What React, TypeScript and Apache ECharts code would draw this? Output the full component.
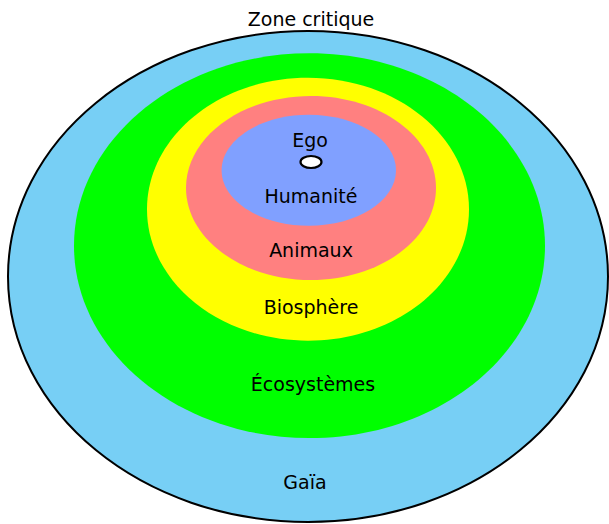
import React, { useEffect, useRef } from "react";
import * as echarts from "echarts";

// Layer labels, from outermost to innermost
const layerLabels = ["Gaïa", "Écosystèmes", "Biosphère", "Animaux", "Humanité"];
const egoLabel = "Ego";
const titleLabel = "Zone critique";

// Layout (positions/sizes/styles) kept separate from data
const layerGeom = [
  { cx: 308, cy: 276.5, rx: 300, ry: 245.5, fill: "#77cff5", stroke: "#000", lineWidth: 2 },
  { cx: 309.5, cy: 245.7, rx: 235.5, ry: 192.4, fill: "#00ff00" },
  { cx: 308, cy: 209.2, rx: 161, ry: 131.5, fill: "#ffff00" },
  { cx: 311, cy: 188, rx: 125, ry: 92, fill: "#ff8080" },
  { cx: 308.8, cy: 170.3, rx: 87.2, ry: 55.5, fill: "#80a0ff" },
];
// baselines
const labelPos = [
  { x: 305, y: 488 },
  { x: 313, y: 390 },
  { x: 311, y: 312.7 },
  { x: 311, y: 255.7 },
  { x: 311, y: 201.7 },
];
const egoPos = { x: 310, y: 146 };
const titlePos = { x: 311, y: 25 };
const egoDot = { cx: 311, cy: 162, rx: 10.5, ry: 6 };

const FONT = "DejaVu Sans";
const FS = 19;
const BASELINE_OFFSET = 15.5;

export default function App() {
  const ref = useRef<HTMLDivElement>(null);
  useEffect(() => {
    if (!ref.current) return;
    const chart = echarts.init(ref.current, null, { renderer: "svg" });
    const elements: any[] = [];
    layerGeom.forEach((g, i) => {
      elements.push({
        type: "ellipse",
        shape: { cx: g.cx, cy: g.cy, rx: g.rx, ry: g.ry },
        style: { fill: g.fill, stroke: g.stroke || null, lineWidth: g.lineWidth || 0 },
        z: i,
      });
    });
    elements.push({
      type: "ellipse",
      shape: egoDot,
      style: { fill: "#ffffff", stroke: "#000", lineWidth: 2.2 },
      z: 10,
    });
    const mkText = (t: string, p: { x: number; y: number }) => ({
      type: "text",
      x: p.x,
      y: p.y - BASELINE_OFFSET,
      z: 20,
      style: {
        text: t,
        fill: "#000",
        fontFamily: FONT,
        fontSize: FS,
        textAlign: "center",
        textVerticalAlign: "top",
        verticalAlign: "top",
      },
    });
    layerLabels.forEach((t, i) => elements.push(mkText(t, labelPos[i])));
    elements.push(mkText(egoLabel, egoPos));
    elements.push(mkText(titleLabel, titlePos));
    chart.setOption({
      animation: false,
      graphic: { elements },
    });
    return () => chart.dispose();
  }, []);
  return (
    <div
      ref={ref}
      style={{ position: "fixed", left: 0, top: 0, width: 609, height: 524, background: "#fff" }}
    />
  );
}
